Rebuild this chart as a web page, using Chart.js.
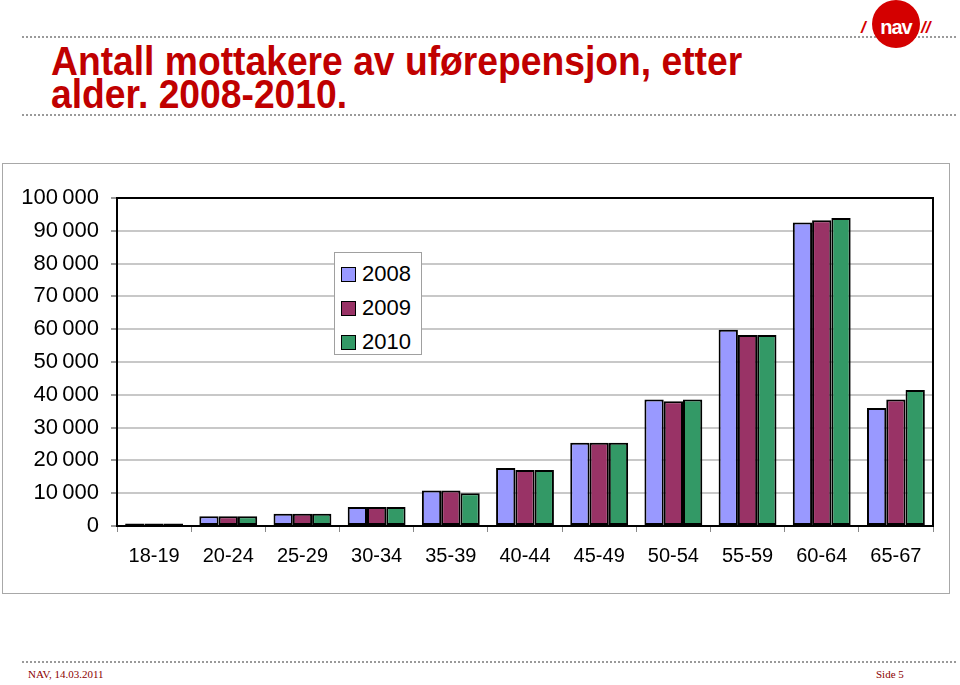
<!DOCTYPE html>
<html>
<head>
<meta charset="utf-8">
<script src="https://cdn.jsdelivr.net/npm/chart.js@4.4.0/dist/chart.umd.min.js"></script>
<style>
  body { margin:0; width:960px; height:685px; background:#fff; position:relative; overflow:hidden; font-family:"Liberation Sans", Arial, sans-serif; }
  .dots { position:absolute; left:22px; right:4px; border-top:2px dotted #9a9a9a; height:0; }
  #title { position:absolute; left:51px; top:45px; color:#c00000; font-family:"Liberation Sans",Arial,sans-serif; font-weight:bold; font-size:38px; line-height:30px; white-space:nowrap; transform:scale(0.98,1.08); transform-origin:0 0; }
  #logo { position:absolute; left:872px; top:0px; width:48px; height:48px; border-radius:50%; background:#d40000; color:#fff; font:bold 20px "Liberation Sans",Arial,sans-serif; text-align:center; line-height:54px; letter-spacing:-1px; }
  .slash { position:absolute; color:#d40000; font:italic bold 17px "Liberation Sans",Arial,sans-serif; }
  #box { position:absolute; left:2px; top:163px; width:946px; height:429px; border:1px solid #a8a8a8; }
  #legend { position:absolute; left:334px; top:252px; width:86px; height:101px; border:1px solid #a0a0a0; background:#fff; }
  .item { position:absolute; left:6px; height:20px; font:22px "Liberation Sans",Arial,sans-serif; color:#000; }
  .item span.sw { position:absolute; left:0; top:3px; width:13px; height:13px; border:1.5px solid #000; }
  .item span.tx { position:absolute; left:21px; top:-3px; }
  .foot { position:absolute; top:668px; font:11px "Liberation Serif","Times New Roman",serif; color:#8b0000; }
</style>
</head>
<body>
<div class="dots" style="top:36px"></div>
<div class="dots" style="top:114px"></div>
<div class="dots" style="top:661px"></div>
<div id="title">Antall mottakere av uførepensjon, etter<br>alder. 2008-2010.</div>
<div class="slash" style="left:861px;top:18px">/</div>
<div id="logo">nav</div>
<div class="slash" style="left:921px;top:18px">//</div>
<div id="box"><canvas id="chart"></canvas></div>
<div id="legend"></div>
<div class="foot" style="left:28px">NAV, 14.03.2011</div>
<div class="foot" style="left:876px">Side 5</div>
<script>
const aldersgrupper = ["18-19","20-24","25-29","30-34","35-39","40-44","45-49","50-54","55-59","60-64","65-67"];
const aar = ["2008","2009","2010"];
const mottakere2008 = [800, 3000, 3700, 5800, 10800, 17700, 25400, 38600, 59800, 92500, 36000];
const mottakere2009 = [800, 3000, 3700, 5800, 10800, 17100, 25400, 38000, 58200, 93200, 38600];
const mottakere2010 = [800, 3000, 3700, 5800, 10000, 17100, 25400, 38600, 58200, 93900, 41500];
const farger = ["#9999ff", "#993366", "#339966"];
const yTicks = [0, 10000, 20000, 30000, 40000, 50000, 60000, 70000, 80000, 90000, 100000];

const serier = [mottakere2008, mottakere2009, mottakere2010];

// ramme rundt plottet (Excel-stil)
const rammePlugin = {
  id: "ramme",
  afterDraw(chart) {
    const a = chart.chartArea, ctx = chart.ctx;
    ctx.save();
    ctx.strokeStyle = "#000";
    ctx.lineWidth = 2;
    ctx.strokeRect(a.left, a.top, a.right - a.left, a.bottom - a.top);
    ctx.restore();
  }
};

// tusenskille med smalt mellomrom
function formatTall(v) {
  return String(v).replace(/\B(?=(\d{3})+(?!\d))/g, "\u2009");
}

const chart = new Chart(document.getElementById("chart").getContext("2d"), {
  type: "bar",
  data: {
    labels: aldersgrupper,
    datasets: aar.map((a, i) => ({
      label: a,
      data: serier[i],
      backgroundColor: farger[i],
      borderColor: "#000",
      borderWidth: 2,
      borderSkipped: false,
      categoryPercentage: 0.78,
      barPercentage: 1.0
    }))
  },
  options: {
    responsive: true,
    maintainAspectRatio: false,
    animation: false,
    layout: { padding: { top: 34, right: 16, left: 0, bottom: 0 } },
    plugins: { legend: { display: false }, tooltip: { enabled: false } },
    scales: {
      x: {
        afterFit: s => { s.height = 67; },
        border: { color: "#000", width: 2 },
        grid: { offset: true, drawOnChartArea: false, drawTicks: true, tickLength: 6, tickColor: "#888" },
        ticks: { color: "#000", font: { family: "Liberation Sans", size: 20 }, padding: 12, maxRotation: 0, autoSkip: false }
      },
      y: {
        min: 0, max: 100000,
        afterFit: s => { s.width = 114; },
        afterBuildTicks: s => { s.ticks = yTicks.map(v => ({ value: v })); },
        border: { color: "#000", width: 2 },
        grid: { color: "#c8c8c8", lineWidth: 2, drawTicks: true, tickLength: 6, tickColor: "#999" },
        ticks: { color: "#000", font: { family: "Liberation Sans", size: 22 }, padding: 12, callback: v => formatTall(v) }
      }
    }
  },
  plugins: [rammePlugin]
});

// egen forklaring inne i plottet
const legend = document.getElementById("legend");
chart.data.datasets.forEach((d, i) => {
  const el = document.createElement("div");
  el.className = "item";
  el.style.top = (11 + i * 34) + "px";
  el.innerHTML = `<span class="sw" style="background:${d.backgroundColor}"></span><span class="tx">${d.label}</span>`;
  legend.appendChild(el);
});
</script>
</body>
</html>
